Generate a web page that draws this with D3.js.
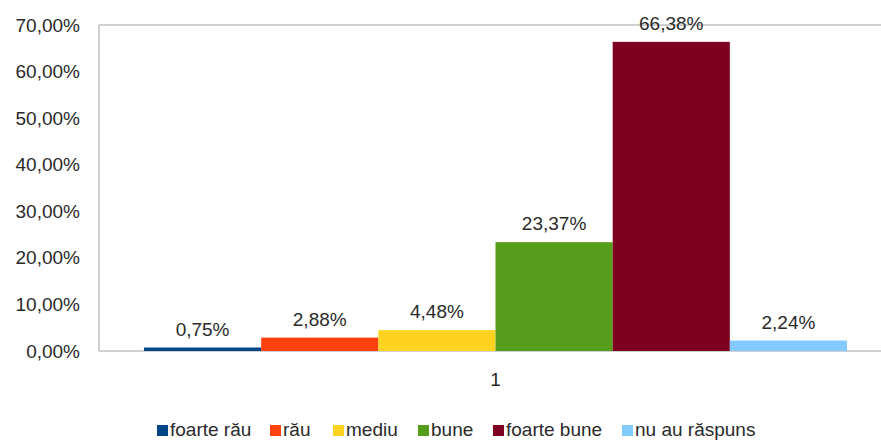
<!DOCTYPE html>
<html>
<head>
<meta charset="utf-8">
<script src="https://cdn.jsdelivr.net/npm/d3@7"></script>
<style>
  body { margin: 0; background: #fff; }
  text { font-family: "Liberation Sans", Arial, sans-serif; fill: #2a2a2a; }
</style>
</head>
<body>
<script>
const categories = ["1"];
const seriesNames = ["foarte rău", "rău", "mediu", "bune", "foarte bune", "nu au răspuns"];
const seriesValues = [0.75, 2.88, 4.48, 23.37, 66.38, 2.24];
const seriesColors = ["#004586", "#ff420e", "#ffd320", "#579d1c", "#7e0021", "#83caff"];
const yTicks = [0, 10, 20, 30, 40, 50, 60, 70];

const W = 881, H = 441;
const margin = { top: 25, right: -11, bottom: 90, left: 99 };
const width = W - margin.left - margin.right;
const height = H - margin.top - margin.bottom;

const svg = d3.select("body").append("svg")
    .attr("width", W)
    .attr("height", H);

const g = svg.append("g")
    .attr("transform", `translate(${margin.left},${margin.top})`);

const fmt = v => v.toFixed(2).replace(".", ",") + "%";

const x0 = d3.scaleBand()
    .domain(categories)
    .range([0, width])
    .paddingOuter(0.064);

const x1 = d3.scaleBand()
    .domain(seriesNames)
    .range([0, x0.bandwidth()]);

const y = d3.scaleLinear()
    .domain([0, 70])
    .range([height, 0]);

// frame
g.append("line").attr("x1", 0).attr("x2", width).attr("y1", 0).attr("y2", 0)
    .attr("stroke", "#c0c0c0").attr("stroke-width", 1.5);
g.append("line").attr("x1", 0).attr("x2", width).attr("y1", height).attr("y2", height)
    .attr("stroke", "#c0c0c0").attr("stroke-width", 1.5);
g.append("line").attr("x1", 0).attr("x2", 0).attr("y1", 0).attr("y2", height)
    .attr("stroke", "#c0c0c0").attr("stroke-width", 1.5);

// y axis labels
const yAxis = d3.axisLeft(y)
    .tickValues(yTicks)
    .tickSize(0)
    .tickPadding(19)
    .tickFormat(fmt);

g.append("g")
    .call(yAxis)
    .call(a => a.select(".domain").remove())
    .selectAll("text")
    .attr("font-size", "19px")
    .attr("font-family", "'Liberation Sans', Arial, sans-serif")
    .attr("fill", "#2a2a2a");

// category axis label
const xAxis = d3.axisBottom(x0).tickSize(0).tickPadding(22);
g.append("g")
    .attr("transform", `translate(0,${height})`)
    .call(xAxis)
    .call(a => a.select(".domain").remove())
    .selectAll("text")
    .attr("font-size", "19px")
    .attr("font-family", "'Liberation Sans', Arial, sans-serif")
    .attr("fill", "#2a2a2a");

const data = seriesNames.map((name, i) => ({ name, value: seriesValues[i], color: seriesColors[i] }));

const group = g.append("g")
    .attr("transform", `translate(${x0(categories[0])},0)`);

group.selectAll("rect")
    .data(data)
    .enter().append("rect")
    .attr("x", d => x1(d.name))
    .attr("y", d => y(d.value))
    .attr("width", x1.bandwidth())
    .attr("height", d => height - y(d.value))
    .attr("fill", d => d.color);

group.selectAll("text.val")
    .data(data)
    .enter().append("text")
    .attr("class", "val")
    .attr("x", d => x1(d.name) + x1.bandwidth() / 2)
    .attr("y", d => y(d.value) - 12)
    .attr("text-anchor", "middle")
    .attr("font-size", "19px")
    .text(d => fmt(d.value));

// legend
const legendX = [157, 270, 333, 418, 493, 622];
const legend = svg.append("g");
data.forEach((d, i) => {
    legend.append("rect")
        .attr("x", legendX[i])
        .attr("y", 425)
        .attr("width", 11)
        .attr("height", 11)
        .attr("fill", d.color);
    legend.append("text")
        .attr("x", legendX[i] + 13)
        .attr("y", 436)
        .attr("font-size", "19px")
        .text(d.name);
});
</script>
</body>
</html>
